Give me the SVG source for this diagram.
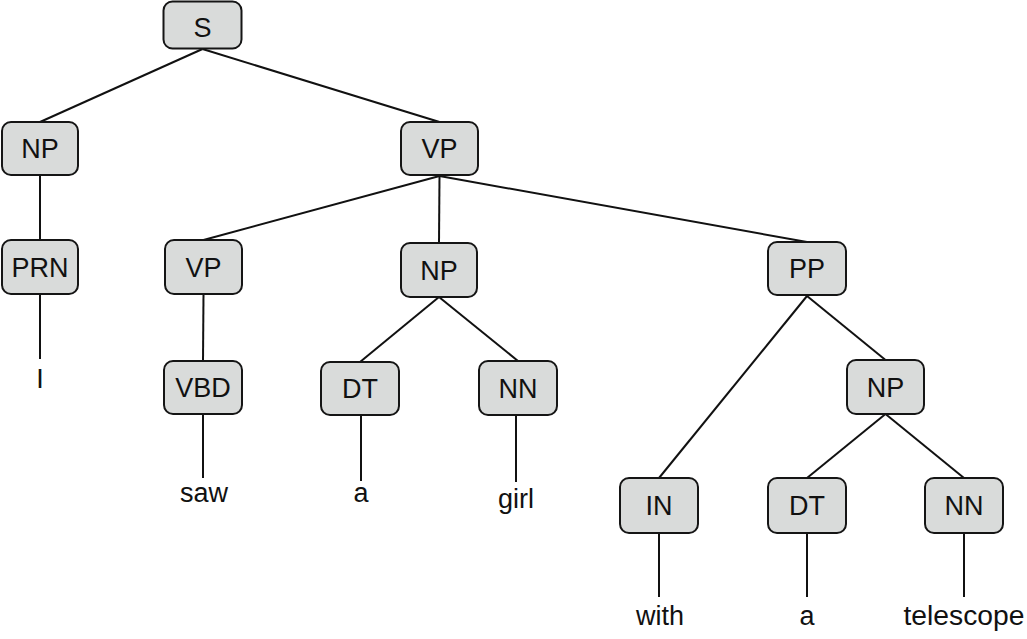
<svg xmlns="http://www.w3.org/2000/svg" width="1027" height="639" viewBox="0 0 1027 639">
<style>
.box{fill:#d9dbda;stroke:#151515;stroke-width:2}
.lbl{font-family:"Liberation Sans",Arial,sans-serif;font-size:27px;fill:#111;text-anchor:middle}
.edge{stroke:#111;stroke-width:2;fill:none}
</style>
<rect width="1027" height="639" fill="#fff"/>
<g id="connectors">
<line class="edge" x1="202.5" y1="49" x2="40" y2="122"/>
<line class="edge" x1="202.5" y1="49" x2="439.5" y2="122"/>
<line class="edge" x1="40" y1="175" x2="40" y2="240"/>
<line class="edge" x1="439.5" y1="176" x2="203.5" y2="240"/>
<line class="edge" x1="439.5" y1="176" x2="439" y2="243"/>
<line class="edge" x1="439.5" y1="176" x2="807" y2="242"/>
<line class="edge" x1="203.5" y1="294" x2="203" y2="361"/>
<line class="edge" x1="439" y1="297" x2="360" y2="362"/>
<line class="edge" x1="439" y1="297" x2="518" y2="361"/>
<line class="edge" x1="807" y1="296" x2="659" y2="478"/>
<line class="edge" x1="807" y1="296" x2="885.5" y2="360"/>
<line class="edge" x1="885.5" y1="414" x2="807" y2="478"/>
<line class="edge" x1="885.5" y1="414" x2="964" y2="478"/>
<line class="edge" x1="40" y1="294" x2="40" y2="359"/>
<line class="edge" x1="203" y1="414" x2="203" y2="478"/>
<line class="edge" x1="361" y1="415" x2="361" y2="481"/>
<line class="edge" x1="516" y1="415" x2="516" y2="482"/>
<line class="edge" x1="659" y1="533" x2="659" y2="597"/>
<line class="edge" x1="807" y1="533" x2="807" y2="597"/>
<line class="edge" x1="964" y1="533" x2="964" y2="597"/>
</g>
<g id="S"><rect class="box" x="163.5" y="1.5" width="78" height="47" rx="9"/><text class="lbl" x="202.5" y="37">S</text></g>
<g id="NP1"><rect class="box" x="2" y="122" width="76" height="53" rx="9"/><text class="lbl" x="40" y="158">NP</text></g>
<g id="VP1"><rect class="box" x="401" y="122" width="77" height="53" rx="9"/><text class="lbl" x="439.5" y="158">VP</text></g>
<g id="PRN"><rect class="box" x="2" y="240" width="76" height="54" rx="9"/><text class="lbl" x="40" y="277">PRN</text></g>
<g id="VP2"><rect class="box" x="165" y="240" width="77" height="54" rx="9"/><text class="lbl" x="203.5" y="277">VP</text></g>
<g id="NP2"><rect class="box" x="401" y="243" width="76" height="54" rx="9"/><text class="lbl" x="439" y="280">NP</text></g>
<g id="PP"><rect class="box" x="768" y="242" width="78" height="53" rx="9"/><text class="lbl" x="807" y="278">PP</text></g>
<g id="VBD"><rect class="box" x="164" y="361" width="78" height="53" rx="9"/><text class="lbl" x="203" y="397">VBD</text></g>
<g id="DT1"><rect class="box" x="321" y="362" width="78" height="53" rx="9"/><text class="lbl" x="360" y="398">DT</text></g>
<g id="NN1"><rect class="box" x="479" y="361" width="78" height="54" rx="9"/><text class="lbl" x="518" y="398">NN</text></g>
<g id="NP3"><rect class="box" x="847" y="360" width="77" height="54" rx="9"/><text class="lbl" x="885.5" y="397">NP</text></g>
<g id="IN"><rect class="box" x="620" y="478" width="78" height="55" rx="9"/><text class="lbl" x="659" y="515">IN</text></g>
<g id="DT2"><rect class="box" x="768" y="478" width="78" height="55" rx="9"/><text class="lbl" x="807" y="515">DT</text></g>
<g id="NN2"><rect class="box" x="925" y="478" width="78" height="55" rx="9"/><text class="lbl" x="964" y="515">NN</text></g>
<g id="words">
<text class="lbl" x="40" y="388">I</text>
<text class="lbl" x="204" y="502">saw</text>
<text class="lbl" x="361" y="502">a</text>
<text class="lbl" x="516" y="508">girl</text>
<text class="lbl" x="660" y="625">with</text>
<text class="lbl" x="807" y="625">a</text>
<text class="lbl" x="964" y="625" textLength="121" lengthAdjust="spacingAndGlyphs">telescope</text>
</g>
</svg>
